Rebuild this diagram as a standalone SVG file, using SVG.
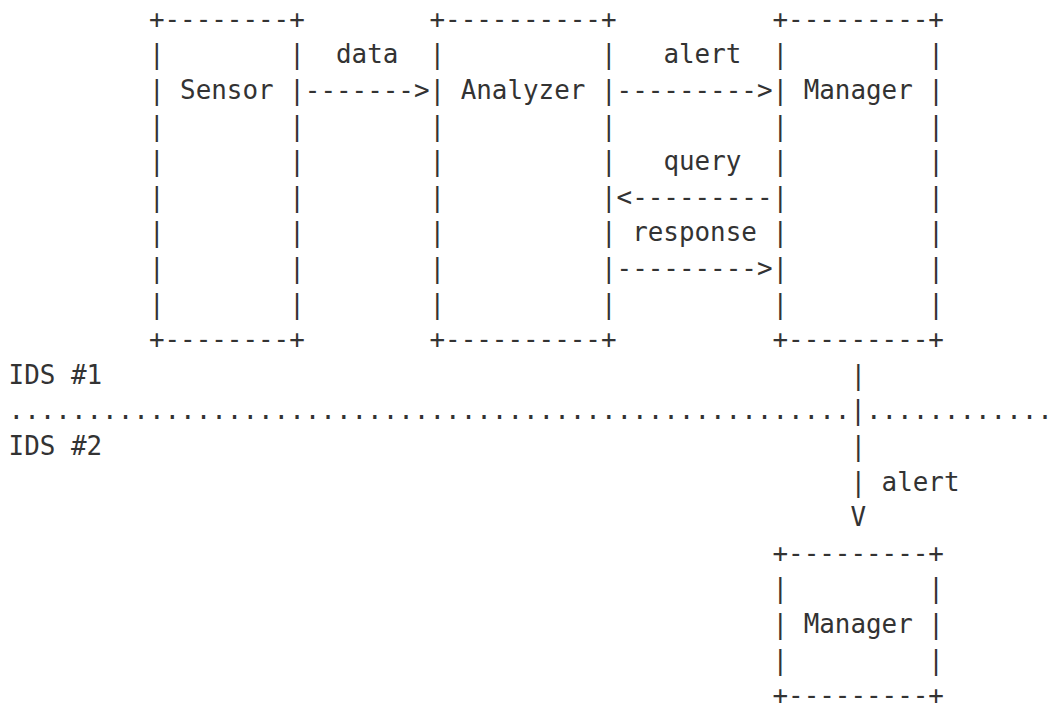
<svg xmlns="http://www.w3.org/2000/svg" width="1060" height="704" viewBox="0 0 1060 704">
<style>
text { font-family: "DejaVu Sans Mono", "Liberation Mono", monospace; font-size: 25.9px; fill: #333333; white-space: pre; }
</style>
<rect x="0" y="0" width="1060" height="704" fill="#ffffff"/>
<g id="sensor">
<text xml:space="preserve"><tspan x="148.9" y="27.8">+--------+</tspan><tspan x="148.9" y="63.4">|        |</tspan><tspan x="148.9" y="99.0">| Sensor |</tspan><tspan x="148.9" y="134.6">|        |</tspan><tspan x="148.9" y="170.2">|        |</tspan><tspan x="148.9" y="205.8">|        |</tspan><tspan x="148.9" y="241.4">|        |</tspan><tspan x="148.9" y="277.0">|        |</tspan><tspan x="148.9" y="312.6">|        |</tspan><tspan x="148.9" y="348.2">+--------+</tspan></text>
</g>
<g id="analyzer">
<text xml:space="preserve"><tspan x="429.5" y="27.8">+----------+</tspan><tspan x="429.5" y="63.4">|          |</tspan><tspan x="429.5" y="99.0">| Analyzer |</tspan><tspan x="429.5" y="134.6">|          |</tspan><tspan x="429.5" y="170.2">|          |</tspan><tspan x="429.5" y="205.8">|          |</tspan><tspan x="429.5" y="241.4">|          |</tspan><tspan x="429.5" y="277.0">|          |</tspan><tspan x="429.5" y="312.6">|          |</tspan><tspan x="429.5" y="348.2">+----------+</tspan></text>
</g>
<g id="manager1">
<text xml:space="preserve"><tspan x="772.5" y="27.8">+---------+</tspan><tspan x="772.5" y="63.4">|         |</tspan><tspan x="772.5" y="99.0">| Manager |</tspan><tspan x="772.5" y="134.6">|         |</tspan><tspan x="772.5" y="170.2">|         |</tspan><tspan x="772.5" y="205.8">|         |</tspan><tspan x="772.5" y="241.4">|         |</tspan><tspan x="772.5" y="277.0">|         |</tspan><tspan x="772.5" y="312.6">|         |</tspan><tspan x="772.5" y="348.2">+---------+</tspan></text>
</g>
<g id="manager2">
<text xml:space="preserve"><tspan x="772.5" y="561.8">+---------+</tspan><tspan x="772.5" y="597.4">|         |</tspan><tspan x="772.5" y="633.0">| Manager |</tspan><tspan x="772.5" y="668.6">|         |</tspan><tspan x="772.5" y="703.6">+---------+</tspan></text>
</g>
<g id="connectors">
<text x="336.0" y="63.4">data</text>
<text x="304.8" y="99.0">-------&gt;</text>
<text x="663.4" y="63.4">alert</text>
<text x="616.6" y="99.0">---------&gt;</text>
<text x="663.4" y="170.2">query</text>
<text x="616.6" y="205.8">&lt;---------</text>
<text x="632.2" y="241.4">response</text>
<text x="616.6" y="277.0">---------&gt;</text>
<text x="850.5" y="383.8">|</text>
<text x="850.5" y="455.0">|</text>
<text x="850.5" y="490.6">|</text>
<text x="881.6" y="490.6">alert</text>
<text x="850.5" y="526.2">V</text>
</g>
<g id="boundary">
<text x="8.6" y="383.8">IDS #1</text>
<text x="8.6" y="419.4">......................................................|............</text>
<text x="8.6" y="455.0">IDS #2</text>
</g>
</svg>
